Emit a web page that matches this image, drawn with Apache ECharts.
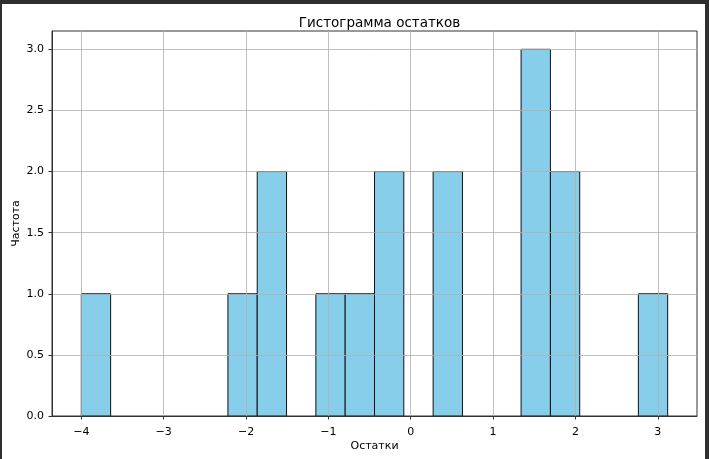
<!DOCTYPE html>
<html>
<head>
<meta charset="utf-8">
<script src="https://cdn.jsdelivr.net/npm/echarts@6/dist/echarts.min.js"></script>
<style>
html,body{margin:0;padding:0;background:#fff;}
#chart{width:709px;height:459px;}
</style>
</head>
<body>
<div id="chart"></div>
<script>
// Histogram bin edges (20 bins) and counts
var binEdges = [-4.0, -3.644, -3.288, -2.932, -2.576, -2.22, -1.864, -1.508, -1.152, -0.796,
                -0.44, -0.084, 0.272, 0.628, 0.984, 1.34, 1.696, 2.052, 2.408, 2.764, 3.12];
var counts = [1, 0, 0, 0, 0, 1, 2, 0, 1, 1, 2, 0, 2, 0, 0, 3, 2, 0, 0, 1];
var xTicks = [-4, -3, -2, -1, 0, 1, 2, 3];
var yTicks = [0, 0.5, 1.0, 1.5, 2.0, 2.5, 3.0];
var titleText = 'Гистограмма остатков';
var xName = 'Остатки';
var yName = 'Частота';

var data = [];
for (var i = 0; i < counts.length; i++) {
  data.push([binEdges[i], binEdges[i + 1], counts[i]]);
}

var font = 'DejaVu Sans';
var chart = echarts.init(document.getElementById('chart'), null, {renderer: 'canvas'});
chart.setOption({
  animation: false,
  backgroundColor: '#ffffff',
  title: {
    text: titleText,
    left: 374.5,
    textAlign: 'center',
    top: 11,
    textStyle: {fontFamily: font, fontSize: 13.5, fontWeight: 'normal', color: '#000'}
  },
  grid: {
    left: 52, right: 12, top: 31, bottom: 43,
    outerBoundsMode: 'none',
    containLabel: false,
    show: true, borderColor: '#333', borderWidth: 1, backgroundColor: 'transparent'
  },
  xAxis: {
    type: 'value',
    min: -4.356, max: 3.476,
    z: 5,
    name: xName,
    nameLocation: 'middle',
    nameGap: 25,
    nameMoveOverlap: false,
    nameTextStyle: {fontFamily: font, fontSize: 11, color: '#000'},
    axisLine: {show: true, onZero: false, lineStyle: {color: '#333', width: 1}},
    axisTick: {show: true, length: 3.5, customValues: xTicks, lineStyle: {color: '#333'}},
    axisLabel: {
      customValues: xTicks, margin: 11,
      fontFamily: font, fontSize: 11, color: '#000',
      formatter: function (v) { return String(v).replace('-', '\u2212'); }
    },
    splitLine: {show: true, lineStyle: {color: '#b0b0b0', width: 0.8}}
  },
  yAxis: {
    type: 'value',
    min: 0, max: 3.15,
    z: 5,
    name: yName,
    nameLocation: 'middle',
    nameGap: 30,
    nameMoveOverlap: false,
    nameTextStyle: {fontFamily: font, fontSize: 11, color: '#000'},
    axisLine: {show: true, onZero: false, lineStyle: {color: '#333', width: 1}},
    axisTick: {show: true, length: 3.5, customValues: yTicks, lineStyle: {color: '#333'}},
    axisLabel: {
      customValues: yTicks, margin: 8,
      fontFamily: font, fontSize: 11, color: '#000',
      formatter: function (v) { return Number(v).toFixed(1); }
    },
    splitLine: {show: true, lineStyle: {color: '#b0b0b0', width: 0.8}}
  },
  series: [{
    type: 'custom',
    z: 2,
    data: data,
    encode: {x: [0, 1], y: 2},
    renderItem: function (params, api) {
      var c = api.value(2);
      if (!c) return null;
      var p0 = api.coord([api.value(0), c]);
      var p1 = api.coord([api.value(1), 0]);
      return {
        type: 'rect',
        shape: {x: p0[0], y: p0[1], width: p1[0] - p0[0], height: p1[1] - p0[1]},
        style: {fill: '#87ceeb', stroke: '#111', lineWidth: 1}
      };
    }
  }],
  graphic: [
    {type: 'rect', z: 100, shape: {x: 0, y: 0, width: 709, height: 4}, style: {fill: '#2f2f2f'}},
    {type: 'rect', z: 100, shape: {x: 0, y: 0, width: 2, height: 459}, style: {fill: '#2f2f2f'}},
    {type: 'rect', z: 100, shape: {x: 705, y: 0, width: 4, height: 459}, style: {fill: '#2f2f2f'}}
  ]
});
</script>
</body>
</html>
